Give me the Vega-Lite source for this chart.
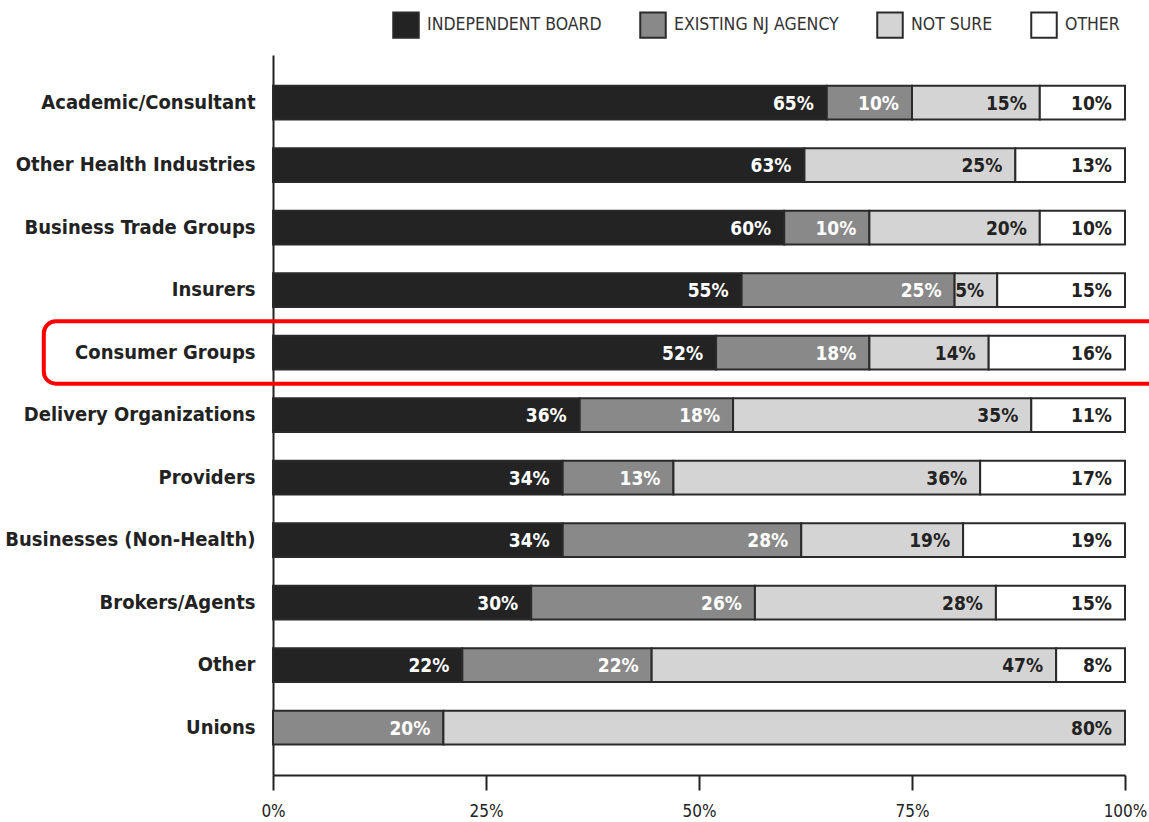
{
  "$schema": "https://vega.github.io/schema/vega-lite/v6.json",
  "width": 852,
  "height": 720,
  "autosize": "none",
  "padding": {"left": 273, "top": 55, "right": 24, "bottom": 47},
  "background": "white",
  "config": {
    "view": {"stroke": null},
    "font": "Liberation Sans Narrow, DejaVu Sans Condensed, sans-serif"
  },
  "datasets": {
    "main": [
      {"group": "Academic/Consultant", "response": "Independent Board", "order": 1, "value": 65},
      {"group": "Academic/Consultant", "response": "Existing NJ Agency", "order": 2, "value": 10},
      {"group": "Academic/Consultant", "response": "Not Sure", "order": 3, "value": 15},
      {"group": "Academic/Consultant", "response": "Other", "order": 4, "value": 10},
      {"group": "Other Health Industries", "response": "Independent Board", "order": 1, "value": 63},
      {"group": "Other Health Industries", "response": "Not Sure", "order": 3, "value": 25},
      {"group": "Other Health Industries", "response": "Other", "order": 4, "value": 13},
      {"group": "Business Trade Groups", "response": "Independent Board", "order": 1, "value": 60},
      {"group": "Business Trade Groups", "response": "Existing NJ Agency", "order": 2, "value": 10},
      {"group": "Business Trade Groups", "response": "Not Sure", "order": 3, "value": 20},
      {"group": "Business Trade Groups", "response": "Other", "order": 4, "value": 10},
      {"group": "Insurers", "response": "Independent Board", "order": 1, "value": 55},
      {"group": "Insurers", "response": "Existing NJ Agency", "order": 2, "value": 25},
      {"group": "Insurers", "response": "Not Sure", "order": 3, "value": 5},
      {"group": "Insurers", "response": "Other", "order": 4, "value": 15},
      {"group": "Consumer Groups", "response": "Independent Board", "order": 1, "value": 52},
      {"group": "Consumer Groups", "response": "Existing NJ Agency", "order": 2, "value": 18},
      {"group": "Consumer Groups", "response": "Not Sure", "order": 3, "value": 14},
      {"group": "Consumer Groups", "response": "Other", "order": 4, "value": 16},
      {"group": "Delivery Organizations", "response": "Independent Board", "order": 1, "value": 36},
      {"group": "Delivery Organizations", "response": "Existing NJ Agency", "order": 2, "value": 18},
      {"group": "Delivery Organizations", "response": "Not Sure", "order": 3, "value": 35},
      {"group": "Delivery Organizations", "response": "Other", "order": 4, "value": 11},
      {"group": "Providers", "response": "Independent Board", "order": 1, "value": 34},
      {"group": "Providers", "response": "Existing NJ Agency", "order": 2, "value": 13},
      {"group": "Providers", "response": "Not Sure", "order": 3, "value": 36},
      {"group": "Providers", "response": "Other", "order": 4, "value": 17},
      {"group": "Businesses (Non-Health)", "response": "Independent Board", "order": 1, "value": 34},
      {"group": "Businesses (Non-Health)", "response": "Existing NJ Agency", "order": 2, "value": 28},
      {"group": "Businesses (Non-Health)", "response": "Not Sure", "order": 3, "value": 19},
      {"group": "Businesses (Non-Health)", "response": "Other", "order": 4, "value": 19},
      {"group": "Brokers/Agents", "response": "Independent Board", "order": 1, "value": 30},
      {"group": "Brokers/Agents", "response": "Existing NJ Agency", "order": 2, "value": 26},
      {"group": "Brokers/Agents", "response": "Not Sure", "order": 3, "value": 28},
      {"group": "Brokers/Agents", "response": "Other", "order": 4, "value": 15},
      {"group": "Other", "response": "Independent Board", "order": 1, "value": 22},
      {"group": "Other", "response": "Existing NJ Agency", "order": 2, "value": 22},
      {"group": "Other", "response": "Not Sure", "order": 3, "value": 47},
      {"group": "Other", "response": "Other", "order": 4, "value": 8},
      {"group": "Unions", "response": "Existing NJ Agency", "order": 2, "value": 20},
      {"group": "Unions", "response": "Not Sure", "order": 3, "value": 80}
    ],
    "highlight": [
      {"group": "Consumer Groups", "start": -0.269, "end": 1.06}
    ]
  },
  "layer": [
    {
      "data": {"name": "main"},
      "transform": [
        {"stack": "value", "groupby": ["group"], "sort": [{"field": "order", "order": "ascending"}], "offset": "normalize", "as": ["x0", "x1"]}
      ],
      "mark": {"type": "bar", "stroke": "#2a2a2a", "strokeWidth": 2},
      "encoding": {
        "y": {
          "field": "group", "type": "nominal",
          "sort": ["Academic/Consultant", "Other Health Industries", "Business Trade Groups", "Insurers", "Consumer Groups", "Delivery Organizations", "Providers", "Businesses (Non-Health)", "Brokers/Agents", "Other", "Unions"],
          "scale": {"paddingInner": 0.46, "paddingOuter": 0.49},
          "axis": {
            "title": null, "ticks": false, "domainColor": "#222", "domainWidth": 2, "labelLimit": 0,
            "labelFontSize": 20, "labelFontWeight": "bold", "labelColor": "#222", "labelPadding": 18
          }
        },
        "x": {
          "field": "x0", "type": "quantitative",
          "scale": {"domain": [0, 1], "nice": false},
          "axis": {
            "title": null, "values": [0, 0.25, 0.5, 0.75, 1], "format": ".0%", "grid": false,
            "tickSize": 15, "tickWidth": 2, "tickColor": "#222", "domainColor": "#222", "domainWidth": 2,
            "labelFontSize": 17, "labelColor": "#222", "labelPadding": 13, "labelFlush": false
          }
        },
        "x2": {"field": "x1"},
        "fill": {
          "field": "response", "type": "nominal",
          "scale": {"domain": ["Independent Board", "Existing NJ Agency", "Not Sure", "Other"], "range": ["#232323", "#898989", "#d4d4d4", "#ffffff"]},
          "legend": {
            "title": null, "orient": "none", "direction": "horizontal", "legendX": 119, "legendY": -44,
            "symbolType": "square", "symbolSize": 650, "symbolStrokeColor": "#2a2a2a", "symbolStrokeWidth": 2,
            "labelExpr": "upper(datum.label)", "labelFontSize": 17.5, "labelColor": "#333", "labelOffset": 7,
            "labelLimit": 0, "columnPadding": 34
          }
        }
      }
    },
    {
      "data": {"name": "main"},
      "transform": [
        {"stack": "value", "groupby": ["group"], "sort": [{"field": "order", "order": "ascending"}], "offset": "normalize", "as": ["x0", "x1"]},
        {"calculate": "datum.value + '%'", "as": "label"}
      ],
      "mark": {"type": "text", "align": "right", "baseline": "middle", "dx": -13, "dy": 1, "fontSize": 19, "fontWeight": "bold"},
      "encoding": {
        "y": {"field": "group", "type": "nominal", "sort": ["Academic/Consultant", "Other Health Industries", "Business Trade Groups", "Insurers", "Consumer Groups", "Delivery Organizations", "Providers", "Businesses (Non-Health)", "Brokers/Agents", "Other", "Unions"]},
        "x": {"field": "x1", "type": "quantitative"},
        "text": {"field": "label"},
        "fill": {"condition": {"test": "datum.order <= 2", "value": "#ffffff"}, "value": "#222222"}
      }
    },
    {
      "data": {"name": "highlight"},
      "mark": {"type": "bar", "fill": null, "fillOpacity": 0, "stroke": "#ff0000", "strokeWidth": 4, "cornerRadius": 12, "height": {"band": 1.85}, "clip": false},
      "encoding": {
        "y": {"field": "group", "type": "nominal", "sort": ["Academic/Consultant", "Other Health Industries", "Business Trade Groups", "Insurers", "Consumer Groups", "Delivery Organizations", "Providers", "Businesses (Non-Health)", "Brokers/Agents", "Other", "Unions"]},
        "x": {"field": "start", "type": "quantitative"},
        "x2": {"field": "end"}
      }
    }
  ]
}
